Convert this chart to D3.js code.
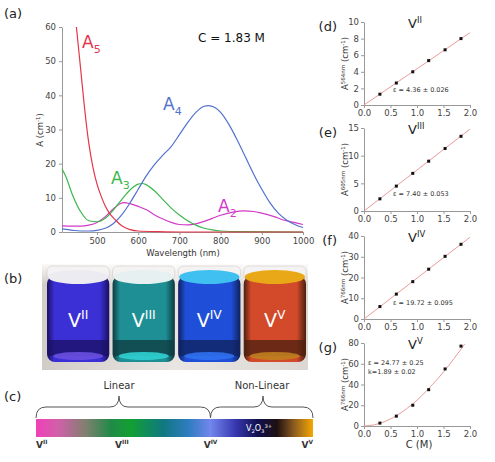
<!DOCTYPE html>
<html lang="en">
<head>
<meta charset="UTF-8"/>
<title>Vanadium absorbance</title>
<script src="https://d3js.org/d3.v7.min.js"></script>
<style>
  body { margin: 0; background: #fff; }
  svg { display: block; font-family: "DejaVu Sans", sans-serif; }
</style>
</head>
<body>
<script>

// ---- panel (a) spectra, [wavelength nm, A cm-1] ----
var specA5 = [[450,60],[455,54],[460,48],[470,36],[480,26],[490,19],[500,14],[510,10.5],[520,7.6],[530,5.5],[545,3.5],[560,1.8],[580,0.7],[600,0.3],[650,0.1],[700,0],[1000,0]];
var specA3 = [[415,18.5],[425,16],[440,11],[460,6],[480,3.3],[500,3],[520,4],[540,6.5],[560,9.5],[580,12.3],[600,14],[610,14.2],[620,13.8],[640,12],[660,9.5],[680,7],[700,5],[720,3.3],[740,2],[760,1.1],[780,0.6],[800,0.3],[850,0.1],[1000,0]];
var specA2 = [[415,1.8],[440,1.7],[460,1.7],[480,2],[500,2.8],[520,4.5],[540,6.8],[555,8.2],[565,8.6],[580,8.3],[600,7.5],[620,6.5],[640,5],[660,3.8],[680,2.8],[700,2.2],[720,2.1],[740,2.4],[760,3.1],[780,4],[800,4.9],[830,5.8],[855,6.2],[880,6],[900,5.5],[930,4.5],[950,3.6],[975,2.9],[1000,2.2]];
var specA4 = [[415,0.9],[440,0.5],[460,0.3],[480,0.3],[500,0.5],[520,1.1],[540,2.5],[560,5],[580,8.5],[600,12.5],[620,16.5],[640,19.8],[660,22.5],[680,25],[700,28.5],[720,32],[740,35],[760,36.8],[770,37],[785,36.5],[800,35],[820,31.5],[840,27],[860,22],[880,17],[900,12.5],[920,8.5],[940,5.5],[960,3.5],[980,2.2],[1000,1.3]];
var waveTicks = [500, 600, 700, 800, 900, 1000];
var absTicks = [0, 10, 20, 30, 40, 50, 60];

// ---- panels (d)-(g) calibration ----
var concC = [0.30, 0.61, 0.92, 1.22, 1.53, 1.83];
var valsD = [1.3, 2.65, 4.0, 5.35, 6.65, 8.0];
var valsE = [2.2, 4.5, 6.8, 9.0, 11.3, 13.5];
var valsF = [6.0, 12.0, 18.0, 24.0, 30.2, 36.0];
var valsG = [2.8, 9.5, 20.0, 35.0, 55.0, 77.0];
var fitD = [[0,0],[2.0,8.72]];
var fitE = [[0,0],[2.0,14.8]];
var fitF = [[0,0],[2.0,39.4]];
var fitG = [[0,0],[0.2,1.2],[0.4,4.4],[0.6,9.6],[0.8,16.5],[1.0,24.8],[1.2,35],[1.4,46],[1.6,58.5],[1.8,72],[1.9,79]];
var concTicks = [0, 0.5, 1.0, 1.5, 2.0];

// ---- panel (b) vials and (c) colour scale ----
var vialNames = ["II", "III", "IV", "V"];
var vialBody = ["#3b2fd6", "#1e8f94", "#1f4fd8", "#d24a2a"];
var vialTop = ["#ecebf2", "#e6f0f0", "#3fc0f0", "#e8a818"];
var vialDark = ["#1a1060", "#0d3a40", "#10205a", "#4a2010"];
var vialShine = ["#6a50e0", "#30d0d0", "#3070f0", "#c08020"];
var barStops = [0, 0.08, 0.18, 0.27, 0.34, 0.46, 0.55, 0.63, 0.72, 0.8, 0.87, 0.93, 1];
var barColors = ["#f040b8", "#d060a8", "#808070", "#208a48", "#12a032", "#107880", "#2f7cc0", "#7286ec", "#3838b0", "#101050", "#1e1010", "#8a5a20", "#f4a800"];
var barLabels = ["II", "III", "IV", "V"];
var barLabelPos = [0, 0.31, 0.63, 1];

var w = 495, h = 462;
var svg = d3.select("body").append("svg").attr("width", w).attr("height", h);
var defs = svg.append("defs");

// text with sub/superscripts
function rich(t, parts, fs) {
  var off = 0;
  parts.forEach(function(p) {
    var target = p[1] === "sup" ? -fs * 0.4 : p[1] === "sub" ? fs * 0.3 : 0;
    t.append("tspan").attr("dy", target - off)
      .attr("font-size", p[1] === "n" ? fs : fs * 0.65).text(p[0]);
    off = target;
  });
  return t;
}

function styleAxis(g) {
  g.selectAll("path, line").attr("stroke", "#999");
  g.selectAll("text").attr("fill", "#444").attr("font-size", 8.5).attr("font-family", "DejaVu Sans");
}

// ================= panel (a) =================
var xA = d3.scaleLinear().domain([415, 1000]).range([62, 303]);
var yA = d3.scaleLinear().domain([0, 60]).range([232, 27]);

svg.append("g").attr("transform", "translate(0,232)")
  .call(d3.axisBottom(xA).tickValues(waveTicks).tickFormat(d3.format("d")).tickSize(3).tickSizeOuter(0).tickPadding(3))
  .call(styleAxis);
svg.append("g").attr("transform", "translate(62,0)")
  .call(d3.axisLeft(yA).tickValues(absTicks).tickSize(3).tickSizeOuter(0).tickPadding(3))
  .call(styleAxis);

var lineA = d3.line().x(function(d){ return xA(d[0]); }).y(function(d){ return yA(d[1]); })
  .curve(d3.curveMonotoneX);

var spectra = [
  {data: specA2, color: "#d23ac8"},
  {data: specA3, color: "#3cb84c"},
  {data: specA4, color: "#5272cf"},
  {data: specA5, color: "#e4364a"}
];
svg.selectAll("path.spec").data(spectra).enter().append("path")
  .attr("class", "spec")
  .attr("d", function(d){ return lineA(d.data); })
  .attr("fill", "none").attr("stroke", function(d){ return d.color; })
  .attr("stroke-width", 1.2);

rich(svg.append("text").attr("x", 82).attr("y", 48).attr("fill", "#e4364a"), [["A","n"],["5","sub"]], 17);
rich(svg.append("text").attr("x", 163).attr("y", 110).attr("fill", "#5272cf"), [["A","n"],["4","sub"]], 17);
rich(svg.append("text").attr("x", 111).attr("y", 184).attr("fill", "#3cb84c"), [["A","n"],["3","sub"]], 17);
rich(svg.append("text").attr("x", 218).attr("y", 212).attr("fill", "#d23ac8"), [["A","n"],["2","sub"]], 17);

svg.append("text").attr("x", 198).attr("y", 42).attr("font-size", 12).attr("fill", "#111").text("C = 1.83 M");
rich(svg.append("text").attr("transform", "translate(43,130) rotate(-90)").attr("text-anchor", "middle").attr("fill", "#333"),
  [["A (cm","n"],["-1","sup"],[")","n"]], 8.5);
svg.append("text").attr("x", 183).attr("y", 256).attr("text-anchor", "middle").attr("font-size", 8.5).attr("fill", "#333").text("Wavelength (nm)");

svg.append("text").attr("x", 4).attr("y", 18).attr("font-size", 13).attr("fill", "#222").text("(a)");
svg.append("text").attr("x", 4).attr("y", 283).attr("font-size", 13).attr("fill", "#222").text("(b)");
svg.append("text").attr("x", 4).attr("y", 401).attr("font-size", 13).attr("fill", "#222").text("(c)");

// ================= panel (b) photo =================
var bgGrad = defs.append("linearGradient").attr("id", "bgGrad").attr("x1", 0).attr("x2", 1).attr("y1", 0).attr("y2", 0);
bgGrad.append("stop").attr("offset", 0).attr("stop-color", "#d2ccc7");
bgGrad.append("stop").attr("offset", 0.5).attr("stop-color", "#e8e5e2");
bgGrad.append("stop").attr("offset", 1).attr("stop-color", "#dcd7d3");
svg.append("rect").attr("x", 42).attr("y", 264).attr("width", 266).attr("height", 106).attr("fill", "url(#bgGrad)");
var topGrad = defs.append("linearGradient").attr("id", "topGrad").attr("x1", 0).attr("x2", 0).attr("y1", 0).attr("y2", 1);
topGrad.append("stop").attr("offset", 0).attr("stop-color", "#fff").attr("stop-opacity", 0.9);
topGrad.append("stop").attr("offset", 1).attr("stop-color", "#fff").attr("stop-opacity", 0);
svg.append("rect").attr("x", 42).attr("y", 264).attr("width", 266).attr("height", 20).attr("fill", "url(#topGrad)");

var xV = d3.scaleBand().domain(vialNames).range([47, 306]).paddingInner(0.05);
var bw = xV.bandwidth();

vialNames.forEach(function(n, i) {
  var g = defs.append("linearGradient").attr("id", "vg" + i).attr("x1", 0).attr("x2", 1).attr("y1", 0).attr("y2", 0);
  g.append("stop").attr("offset", 0).attr("stop-color", vialDark[i]);
  g.append("stop").attr("offset", 0.12).attr("stop-color", vialBody[i]);
  g.append("stop").attr("offset", 0.85).attr("stop-color", vialBody[i]);
  g.append("stop").attr("offset", 1).attr("stop-color", vialDark[i]);
});

var vials = svg.selectAll("g.vial").data(vialNames).enter().append("g").attr("class", "vial")
  .attr("transform", function(d){ return "translate(" + xV(d) + ",0)"; });
vials.append("rect").attr("x", 0).attr("y", 266).attr("width", bw).attr("height", 14).attr("rx", 5)
  .attr("fill", "#f4f2f2").attr("stroke", "#c8c3bf").attr("stroke-width", 0.5);
vials.append("rect").attr("x", 0).attr("y", 276).attr("width", bw).attr("height", 86).attr("rx", 8)
  .attr("fill", function(d, i){ return "url(#vg" + i + ")"; });
vials.append("rect").attr("x", 1).attr("y", 340).attr("width", bw - 2).attr("height", 16)
  .attr("fill", function(d, i){ return vialDark[i]; }).attr("opacity", 0.75);
vials.append("ellipse").attr("cx", bw / 2).attr("cy", 356).attr("rx", bw / 2 - 6).attr("ry", 4)
  .attr("fill", function(d, i){ return vialShine[i]; }).attr("opacity", 0.9);
vials.append("ellipse").attr("cx", bw / 2).attr("cy", 277).attr("rx", bw / 2 - 1).attr("ry", 7)
  .attr("fill", function(d, i){ return vialTop[i]; });
vials.each(function(d) {
  rich(d3.select(this).append("text").attr("x", bw / 2).attr("y", 327).attr("text-anchor", "middle").attr("fill", "#fff"),
    [["V","n"],[d,"sup"]], 19);
});

// ================= panel (c) colour scale =================
var xBar = d3.scaleLinear().domain([0, 1]).range([36, 313]);
var barGrad = defs.append("linearGradient").attr("id", "barGrad").attr("x1", 0).attr("x2", 1).attr("y1", 0).attr("y2", 0);
barStops.forEach(function(s, i) {
  barGrad.append("stop").attr("offset", s).attr("stop-color", barColors[i]);
});
svg.append("rect").attr("x", xBar(0)).attr("y", 419).attr("width", xBar(1) - xBar(0)).attr("height", 18).attr("fill", "url(#barGrad)");

function brace(x0, x1, xm) {
  return "M" + x0 + ",418 Q" + x0 + ",407 " + (x0 + 10) + ",407 L" + (xm - 9) + ",407 Q" + xm + ",407 " + xm + ",396"
    + " Q" + xm + ",407 " + (xm + 9) + ",407 L" + (x1 - 10) + ",407 Q" + x1 + ",407 " + x1 + ",418";
}
svg.append("path").attr("d", brace(xBar(0), xBar(0.63), 119)).attr("fill", "none").attr("stroke", "#555").attr("stroke-width", 1);
svg.append("path").attr("d", brace(xBar(0.63), xBar(1), 263)).attr("fill", "none").attr("stroke", "#555").attr("stroke-width", 1);
svg.append("text").attr("x", 119).attr("y", 389).attr("text-anchor", "middle").attr("font-size", 10).attr("fill", "#333").text("Linear");
svg.append("text").attr("x", 262).attr("y", 389).attr("text-anchor", "middle").attr("font-size", 10).attr("fill", "#333").text("Non-Linear");
rich(svg.append("text").attr("x", 246).attr("y", 431).attr("fill", "#fff"),
  [["V","n"],["2","sub"],["O","n"],["3","sub"],["3+","sup"]], 8);

barLabels.forEach(function(l, i) {
  var anchor = i === 0 ? "start" : i === barLabels.length - 1 ? "end" : "middle";
  rich(svg.append("text").attr("x", xBar(barLabelPos[i])).attr("y", 448).attr("text-anchor", anchor)
    .attr("fill", "#333").attr("font-weight", "bold"), [["V","n"],[l,"sup"]], 9);
});

// ================= panels (d)-(g) =================
var calib = [
  {tag: "(d)", ion: "II", vals: valsD, fit: fitD, max: 10, ticks: [0,2,4,6,8,10], top: 22, wl: "564nm", eps: ["ε = 4.36 ± 0.026"], ex: 393, ey: 92},
  {tag: "(e)", ion: "III", vals: valsE, fit: fitE, max: 15, ticks: [0,5,10,15], top: 128, wl: "605nm", eps: ["ε = 7.40 ± 0.053"], ex: 393, ey: 196},
  {tag: "(f)", ion: "IV", vals: valsF, fit: fitF, max: 40, ticks: [0,10,20,30,40], top: 236, wl: "766nm", eps: ["ε = 19.72 ± 0.095"], ex: 393, ey: 305},
  {tag: "(g)", ion: "V", vals: valsG, fit: fitG, max: 80, ticks: [0,20,40,60,80], top: 343, wl: "766nm", eps: ["ε = 24.77 ± 0.25", "k=1.89 ± 0.02"], ex: 368, ey: 365}
];
var xC = d3.scaleLinear().domain([0, 2]).range([364, 470]);
var panelH = 83;

calib.forEach(function(p) {
  var y = d3.scaleLinear().domain([0, p.max]).range([p.top + panelH, p.top]);
  var g = svg.append("g");
  g.append("g").attr("transform", "translate(0," + (p.top + panelH) + ")")
    .call(d3.axisBottom(xC).tickValues(concTicks).tickFormat(d3.format(".1f")).tickSize(3).tickSizeOuter(0).tickPadding(2))
    .call(styleAxis);
  g.append("g").attr("transform", "translate(364,0)")
    .call(d3.axisLeft(y).tickValues(p.ticks).tickSize(3).tickSizeOuter(0).tickPadding(2))
    .call(styleAxis);

  var fitLine = d3.line().x(function(d){ return xC(d[0]); }).y(function(d){ return y(d[1]); }).curve(d3.curveMonotoneX);
  g.append("path").attr("d", fitLine(p.fit)).attr("fill", "none").attr("stroke", "#e89090").attr("stroke-width", 0.9);

  g.selectAll("rect.pt").data(p.vals).enter().append("rect").attr("class", "pt")
    .attr("x", function(d, i){ return xC(concC[i]) - 1.5; })
    .attr("y", function(d){ return y(d) - 1.5; })
    .attr("width", 3).attr("height", 3).attr("fill", "#111");

  rich(g.append("text").attr("x", 408).attr("y", p.top + 6).attr("fill", "#222"), [["V","n"],[p.ion,"sup"]], 13);
  g.append("text").attr("x", 337).attr("y", p.top + 9).attr("text-anchor", "end").attr("font-size", 13).attr("fill", "#222").text(p.tag);

  rich(g.append("text").attr("transform", "translate(348," + (p.top + panelH / 2) + ") rotate(-90)")
    .attr("text-anchor", "middle").attr("fill", "#333"),
    [["A","n"],[p.wl,"sup"],[" (cm","n"],["-1","sup"],[")","n"]], 8.5);

  p.eps.forEach(function(s, k) {
    g.append("text").attr("x", p.ex).attr("y", p.ey + k * 9).attr("font-size", 6.5).attr("fill", "#333").text(s);
  });
});

svg.append("text").attr("x", 419).attr("y", 448).attr("text-anchor", "middle").attr("font-size", 10).attr("fill", "#333").text("C (M)");

</script>
</body>
</html>
